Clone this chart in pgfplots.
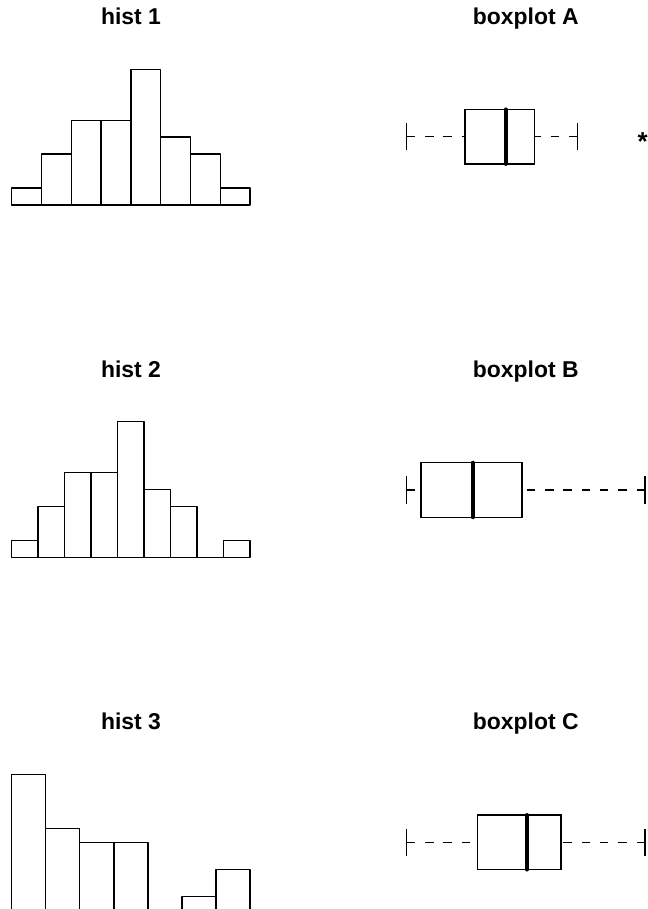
\documentclass[border=0pt]{standalone}
\usepackage{pgfplots}
\pgfplotsset{compat=1.18}
\usepgfplotslibrary{statistics}
\usepackage{fontspec}
\setmainfont{Liberation Sans}
\pgfplotsset{
  histax/.style={hide axis, scale only axis, clip=false, anchor=south west,
    xmin=0, ymin=0, width=238.3bp, ybar interval},
  histbar/.style={draw=black, fill=white, line width=1.4bp, line join=round},
  boxax/.style={hide axis, scale only axis, clip=false, anchor=south west,
    xmin=0, xmax=100, ymin=-1, ymax=1, width=238.3bp, height=109bp},
  rbox/.style={
    black, line width=1.4bp, mark=text, text mark={\bfseries\fontsize{26}{30}\selectfont *},
    text mark as node=true,
    text mark style={inner sep=0pt, yshift=-4.5bp},
    boxplot/draw direction=x,
    boxplot/box extend=1, boxplot/whisker extend=0.5,
    boxplot/draw/box/.code={\draw[line width=1.4bp]
      (boxplot box cs:\pgfplotsboxplotvalue{lower quartile},0) rectangle
      (boxplot box cs:\pgfplotsboxplotvalue{upper quartile},1);},
    boxplot/draw/median/.code={\draw[line width=4bp, line cap=round]
      (boxplot box cs:\pgfplotsboxplotvalue{median},0) --
      (boxplot box cs:\pgfplotsboxplotvalue{median},1);},
    boxplot/draw/lower whisker/.code={%
      \draw[line width=1.4bp, dash pattern=on 8.5bp off 9.8bp]
        (boxplot cs:\pgfplotsboxplotvalue{lower whisker}) --
        (boxplot cs:\pgfplotsboxplotvalue{lower quartile});
      \draw[line width=1.4bp]
        (boxplot whisker cs:\pgfplotsboxplotvalue{lower whisker},0) --
        (boxplot whisker cs:\pgfplotsboxplotvalue{lower whisker},1);},
    boxplot/draw/upper whisker/.code={%
      \draw[line width=1.4bp, dash pattern=on 8.5bp off 9.8bp]
        (boxplot cs:\pgfplotsboxplotvalue{upper whisker}) --
        (boxplot cs:\pgfplotsboxplotvalue{upper quartile});
      \draw[line width=1.4bp]
        (boxplot whisker cs:\pgfplotsboxplotvalue{upper whisker},0) --
        (boxplot whisker cs:\pgfplotsboxplotvalue{upper whisker},1);},
  },
}
\begin{document}
\begin{tikzpicture}[x=1bp,y=1bp]
\path[use as bounding box] (0,0) rectangle (648,909);
% titles
\tikzset{ttl/.style={anchor=base, font=\bfseries\fontsize{23}{27}\selectfont}}
\node[ttl] at (131,884) {hist 1};
\node[ttl] at (525.8,884) {boxplot A};
\node[ttl] at (131,531.5) {hist 2};
\node[ttl] at (525.8,531.5) {boxplot B};
\node[ttl] at (131,179) {hist 3};
\node[ttl] at (525.8,179) {boxplot C};

% hist 1
\begin{axis}[histax, at={(11.7bp,704bp)}, height=135.6bp, xmax=8, ymax=8]
\addplot[histbar] coordinates {(0,1) (1,3) (2,5) (3,5) (4,8) (5,4) (6,3) (7,1) (8,1)};
\end{axis}
% hist 2
\begin{axis}[histax, at={(11.7bp,351.3bp)}, height=136bp, xmax=9, ymax=8]
\addplot[histbar] coordinates {(0,1) (1,3) (2,5) (3,5) (4,8) (5,4) (6,3) (7,0) (8,1) (9,1)};
\end{axis}
% hist 3
\begin{axis}[histax, at={(11.7bp,-1bp)}, height=135.5bp, xmax=7, ymax=10]
\addplot[histbar] coordinates {(0,10) (1,6) (2,5) (3,5) (4,0) (5,1) (6,3) (7,3)};
\end{axis}

% boxplot A
\begin{axis}[boxax, at={(406.7bp,717.8bp)}]
\addplot[rbox, boxplot prepared={draw position=0, lower whisker=0, lower quartile=24.5,
  median=41.5, upper quartile=53.5, upper whisker=71.6}] coordinates {(0,99)};
\end{axis}
% boxplot B
\begin{axis}[boxax, at={(406.7bp,364.5bp)}]
\addplot[rbox, boxplot prepared={draw position=0, lower whisker=0, lower quartile=6.0,
  median=27.7, upper quartile=48.3, upper whisker=100}] coordinates {};
\end{axis}
% boxplot C
\begin{axis}[boxax, at={(406.7bp,12.2bp)}]
\addplot[rbox, boxplot prepared={draw position=0, lower whisker=0, lower quartile=29.8,
  median=50.4, upper quartile=64.7, upper whisker=100}] coordinates {};
\end{axis}
\end{tikzpicture}
\end{document}
